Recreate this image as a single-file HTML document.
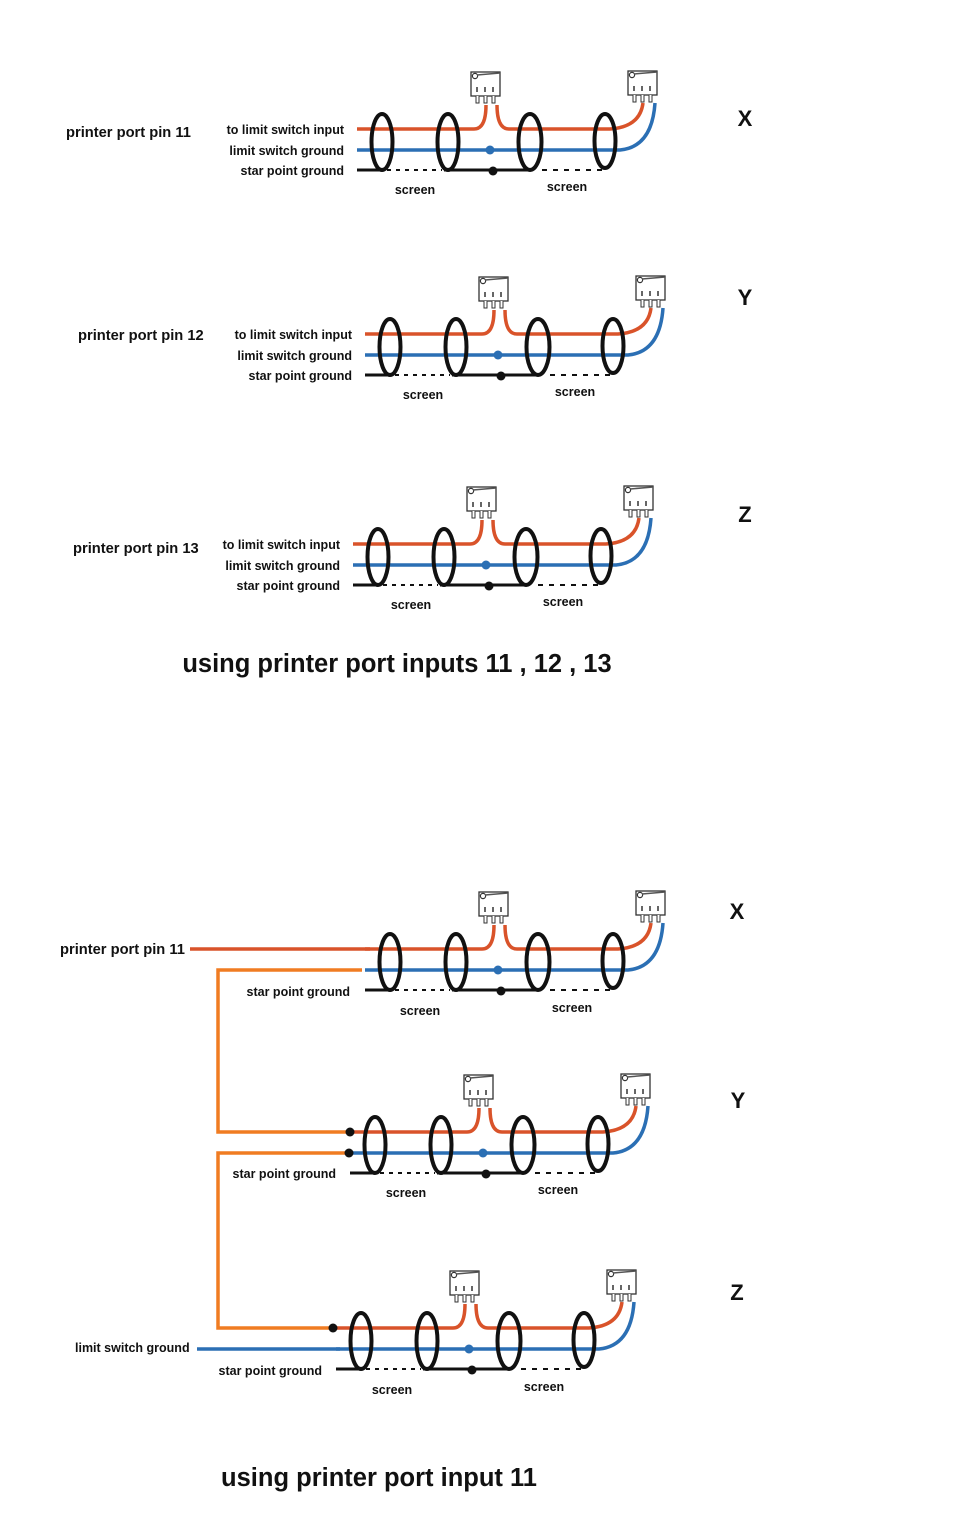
<!DOCTYPE html>
<html><head><meta charset="utf-8"><style>
html,body{margin:0;padding:0;background:#fff}
svg{display:block}
text{font-family:"Liberation Sans",Arial,sans-serif;font-weight:bold;fill:#111}
</style></head><body>
<svg width="953" height="1536" viewBox="0 0 953 1536" xmlns="http://www.w3.org/2000/svg">
<defs>
<g id="sw">
  <rect x="0" y="0" width="29" height="24" fill="#fff" stroke="#333" stroke-width="1.3"/>
  <circle cx="4" cy="4" r="2.6" fill="#fff" stroke="#333" stroke-width="1.2"/>
  <path d="M6 3 L29 1" stroke="#555" stroke-width="1.5" fill="none"/>
  <path d="M6 15 v5 M14 15 v5 M22 15 v5" stroke="#333" stroke-width="1.5"/>
  <path d="M5 24 v7 h3 v-7 M13 24 v7 h3 v-7 M21 24 v7 h3 v-7" stroke="#333" stroke-width="1" fill="#fff"/>
</g>
<g id="blk" fill="none">
  <path d="M-25 0 H92 Q104 0 104 -24" stroke="#d9532a" stroke-width="3.5"/>
  <path d="M115 -24 Q115 0 127 0 H228 Q258 -2 261 -26" stroke="#d9532a" stroke-width="3.5"/>
  <path d="M-25 21 H238 Q270 18 273 -26" stroke="#2b6fb4" stroke-width="3.5"/>
  <path d="M-25 41 H0" stroke="#111" stroke-width="3"/>
  <path d="M5 41 H60" stroke="#111" stroke-width="2" stroke-dasharray="4 5"/>
  <path d="M62 41 H148" stroke="#111" stroke-width="3"/>
  <path d="M160 41 H225" stroke="#111" stroke-width="2" stroke-dasharray="5 6"/>
  <circle cx="108" cy="21" r="4.5" fill="#2b6fb4"/>
  <circle cx="111" cy="42" r="4.5" fill="#111"/>
  <g stroke="#111" stroke-width="4">
    <ellipse cx="0" cy="13" rx="10.5" ry="28"/>
    <ellipse cx="66" cy="13" rx="10.5" ry="28"/>
    <ellipse cx="148" cy="13" rx="11.5" ry="28"/>
    <ellipse cx="223" cy="12" rx="10.5" ry="27"/>
  </g>
  <use href="#sw" x="89" y="-57"/>
  <use href="#sw" x="246" y="-58"/>
</g>
</defs>

<use href="#blk" x="382" y="129"/>
<text x="66" y="137" font-size="14.7">printer port pin 11</text>
<text x="344" y="134" font-size="12.5" text-anchor="end">to limit switch input</text>
<text x="344" y="155" font-size="12.5" text-anchor="end">limit switch ground</text>
<text x="344" y="175" font-size="12.5" text-anchor="end">star point ground</text>
<text x="415" y="194" font-size="12.5" text-anchor="middle">screen</text>
<text x="567" y="191" font-size="12.5" text-anchor="middle">screen</text>
<text x="745" y="126" font-size="22" text-anchor="middle">X</text>

<use href="#blk" x="390" y="334"/>
<text x="78" y="340" font-size="14.7">printer port pin 12</text>
<text x="352" y="339" font-size="12.5" text-anchor="end">to limit switch input</text>
<text x="352" y="360" font-size="12.5" text-anchor="end">limit switch ground</text>
<text x="352" y="380" font-size="12.5" text-anchor="end">star point ground</text>
<text x="423" y="399" font-size="12.5" text-anchor="middle">screen</text>
<text x="575" y="396" font-size="12.5" text-anchor="middle">screen</text>
<text x="745" y="305" font-size="22" text-anchor="middle">Y</text>

<use href="#blk" x="378" y="544"/>
<text x="73" y="553" font-size="14.7">printer port pin 13</text>
<text x="340" y="549" font-size="12.5" text-anchor="end">to limit switch input</text>
<text x="340" y="570" font-size="12.5" text-anchor="end">limit switch ground</text>
<text x="340" y="590" font-size="12.5" text-anchor="end">star point ground</text>
<text x="411" y="609" font-size="12.5" text-anchor="middle">screen</text>
<text x="563" y="606" font-size="12.5" text-anchor="middle">screen</text>
<text x="745" y="522" font-size="22" text-anchor="middle">Z</text>

<text x="397" y="672" font-size="25.5" text-anchor="middle">using printer port inputs 11 , 12 , 13</text>

<g fill="none">
  <path d="M190 949 H370" stroke="#d9532a" stroke-width="3.5"/>
  <path d="M362 970 H218 V1132 H350" stroke="#f07c22" stroke-width="3.5"/>
  <path d="M350 1153 H218 V1328 H333" stroke="#f07c22" stroke-width="3.5"/>
  <path d="M197 1349 H340" stroke="#2b6fb4" stroke-width="3.5"/>
</g>
<use href="#blk" x="390" y="949"/>
<use href="#blk" x="375" y="1132"/>
<use href="#blk" x="361" y="1328"/>
<circle cx="350" cy="1132" r="4.5" fill="#111"/>
<circle cx="349" cy="1153" r="4.5" fill="#111"/>
<circle cx="333" cy="1328" r="4.5" fill="#111"/>

<text x="60" y="954" font-size="14.7">printer port pin 11</text>
<text x="350" y="996" font-size="12.5" text-anchor="end">star point ground</text>
<text x="420" y="1015" font-size="12.5" text-anchor="middle">screen</text>
<text x="572" y="1012" font-size="12.5" text-anchor="middle">screen</text>
<text x="737" y="919" font-size="22" text-anchor="middle">X</text>

<text x="336" y="1178" font-size="12.5" text-anchor="end">star point ground</text>
<text x="406" y="1197" font-size="12.5" text-anchor="middle">screen</text>
<text x="558" y="1194" font-size="12.5" text-anchor="middle">screen</text>
<text x="738" y="1108" font-size="22" text-anchor="middle">Y</text>

<text x="75" y="1352" font-size="12.5">limit switch ground</text>
<text x="322" y="1375" font-size="12.5" text-anchor="end">star point ground</text>
<text x="392" y="1394" font-size="12.5" text-anchor="middle">screen</text>
<text x="544" y="1391" font-size="12.5" text-anchor="middle">screen</text>
<text x="737" y="1300" font-size="22" text-anchor="middle">Z</text>

<text x="379" y="1486" font-size="25.5" text-anchor="middle">using printer port input 11</text>
</svg>
</body></html>
